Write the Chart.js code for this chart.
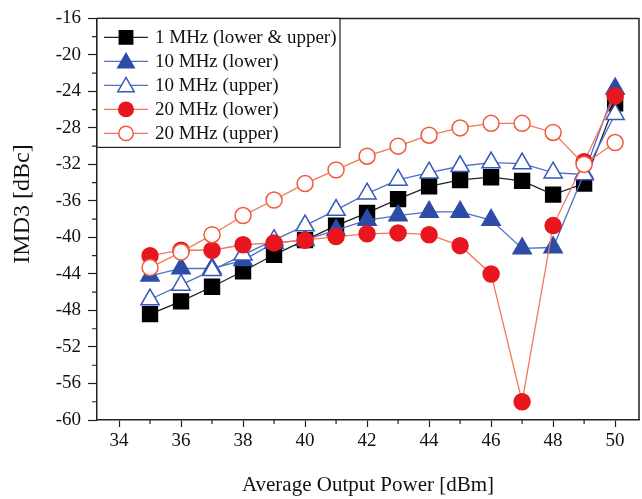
<!DOCTYPE html>
<html>
<head>
<meta charset="utf-8">
<script src="https://cdn.jsdelivr.net/npm/chart.js@4/dist/chart.umd.min.js"></script>
<style>
html,body{margin:0;padding:0;background:#fff;}
#wrap{width:642px;height:499px;}
</style>
</head>
<body>
<div id="wrap"><canvas id="c" width="642" height="499"></canvas></div>
<script>
const powerDbm = [35,36,37,38,39,40,41,42,43,44,45,46,47,48,49,50];
const imd1MHz      = [-48.4,-47.0,-45.4,-43.7,-41.9,-40.3,-38.7,-37.3,-35.8,-34.4,-33.7,-33.4,-33.8,-35.3,-34.1,-25.3];
const imd10MHzLow  = [-44.2,-43.4,-43.4,-42.5,-40.6,-40.3,-39.2,-38.1,-37.6,-37.2,-37.2,-38.1,-41.2,-41.1,-33.0,-23.7];
const imd10MHzUp   = [-46.8,-45.2,-43.6,-41.9,-40.3,-38.7,-37.0,-35.2,-33.7,-32.9,-32.2,-31.8,-31.9,-32.9,-33.1,-26.5];
const imd20MHzLow  = [-42.0,-41.4,-41.4,-40.8,-40.6,-40.3,-39.9,-39.6,-39.5,-39.7,-40.9,-44.0,-58.0,-38.7,-31.7,-24.5];
const imd20MHzUp   = [-43.3,-41.6,-39.7,-37.6,-35.9,-34.1,-32.6,-31.1,-30.0,-28.8,-28.0,-27.5,-27.5,-28.5,-32.0,-29.6];
const seriesNames  = ['1 MHz (lower & upper)','10 MHz (lower)','10 MHz (upper)','20 MHz (lower)','20 MHz (upper)'];
const xMajorTicks  = [34,36,38,40,42,44,46,48,50];
const xMinorTicks  = [35,37,39,41,43,45,47,49];
const yMajorTicks  = [-60,-56,-52,-48,-44,-40,-36,-32,-28,-24,-20,-16];
const yMinorTicks  = [-58,-54,-50,-46,-42,-38,-34,-30,-26,-22,-18];
const xTitle = 'Average Output Power [dBm]';
const yTitle = 'IMD3 [dBc]';

const SERIF = '"Liberation Serif","Times New Roman",serif';
const styles = [
  {line:'#222222', fill:'#000000', stroke:'#000000', shape:'rect', r:10.5, order:5},
  {line:'#4f6fc6', fill:'#2d4ca8', stroke:'#2d4ca8', shape:'triangle', r:10.5, order:4},
  {line:'#4f6fc6', fill:'#ffffff', stroke:'#3558bb', shape:'triangle', r:10.5, order:3},
  {line:'#f2775c', fill:'#e8161e', stroke:'#e8161e', shape:'circle', r:8, order:2},
  {line:'#f2775c', fill:'#ffffff', stroke:'#f05a3a', shape:'circle', r:8, order:1}
];
const allSeries = [imd1MHz, imd10MHzLow, imd10MHzUp, imd20MHzLow, imd20MHzUp];

const datasets = allSeries.map((vals, i) => ({
  label: seriesNames[i],
  data: powerDbm.map((x, k) => ({x: x, y: vals[k]})),
  borderColor: styles[i].line,
  borderWidth: 1.3,
  pointStyle: styles[i].shape,
  pointRadius: styles[i].r,
  pointHoverRadius: styles[i].r,
  pointBackgroundColor: styles[i].fill,
  pointBorderColor: styles[i].stroke,
  pointBorderWidth: 1.5,
  tension: 0,
  clip: false,
  order: styles[i].order
}));

function drawMarker(ctx, shape, x, y, r, fill, stroke) {
  ctx.save();
  ctx.beginPath();
  if (shape === 'rect') {
    const s = r * Math.SQRT1_2;
    ctx.rect(x - s, y - s, 2*s, 2*s);
  } else if (shape === 'triangle') {
    ctx.moveTo(x, y - r);
    ctx.lineTo(x + r*Math.sqrt(3)/2, y + r/2);
    ctx.lineTo(x - r*Math.sqrt(3)/2, y + r/2);
    ctx.closePath();
  } else {
    ctx.arc(x, y, r, 0, Math.PI*2);
  }
  ctx.fillStyle = fill; ctx.fill();
  ctx.lineWidth = 1.5; ctx.strokeStyle = stroke; ctx.stroke();
  ctx.restore();
}

const framePlugin = {
  id: 'frame',
  afterDraw(chart) {
    const {ctx, chartArea: a, scales} = chart;
    ctx.save();
    ctx.strokeStyle = '#222';
    ctx.lineWidth = 1.5;
    ctx.beginPath();
    ctx.moveTo(a.left, a.top); ctx.lineTo(a.right, a.top); ctx.lineTo(a.right, a.bottom);
    ctx.stroke();
    // minor ticks
    ctx.lineWidth = 1.2;
    ctx.beginPath();
    xMinorTicks.forEach(v => { const px = scales.x.getPixelForValue(v); ctx.moveTo(px, a.bottom); ctx.lineTo(px, a.bottom + 4); });
    yMinorTicks.forEach(v => { const py = scales.y.getPixelForValue(v); ctx.moveTo(a.left, py); ctx.lineTo(a.left - 5, py); });
    ctx.stroke();
    // y title
    ctx.save();
    ctx.translate(23, 204);
    ctx.rotate(-Math.PI / 2);
    ctx.font = '24px ' + SERIF;
    ctx.fillStyle = '#111';
    ctx.textAlign = 'center';
    ctx.textBaseline = 'middle';
    ctx.fillText(yTitle, 0, 0);
    ctx.restore();
    // legend
    const lx = a.left, ly = a.top, lw = 243, lh = 129;
    ctx.fillStyle = '#fff';
    ctx.fillRect(lx, ly, lw, lh);
    ctx.lineWidth = 1.2; ctx.strokeStyle = '#222';
    ctx.strokeRect(lx, ly, lw, lh);
    ctx.font = '19px ' + SERIF;
    ctx.textBaseline = 'middle';
    ctx.textAlign = 'left';
    seriesNames.forEach((name, i) => {
      const y = ly + 19 + i * 24;
      const s = styles[i];
      ctx.strokeStyle = s.line; ctx.lineWidth = 1.3;
      ctx.beginPath(); ctx.moveTo(lx + 7, y); ctx.lineTo(lx + 51, y); ctx.stroke();
      drawMarker(ctx, s.shape, lx + 29, y + (s.shape==='triangle'?1.5:0), s.r*0.9, s.fill, s.stroke);
      ctx.fillStyle = '#111';
      ctx.fillText(name, lx + 58, y + 1);
    });
    ctx.restore();
  }
};

new Chart(document.getElementById('c'), {
  type: 'line',
  data: { datasets },
  options: {
    responsive: false,
    animation: false,
    layout: { autoPadding: false, padding: { top: 18, right: 3, left: 0, bottom: 0 } },
    plugins: { legend: { display: false }, tooltip: { enabled: false } },
    scales: {
      x: {
        type: 'linear',
        min: 33.29, max: 50.77,
        afterBuildTicks: s => { s.ticks = xMajorTicks.map(v => ({value: v})); },
        afterFit: s => { s.height = 79; s.paddingRight = 0; s.paddingLeft = 0; },
        grid: { drawOnChartArea: false, tickLength: 7, tickColor: '#222', tickWidth: 1.2 },
        border: { display: true, color: '#222', width: 1.5 },
        ticks: { color: '#111', font: { family: SERIF, size: 19 }, padding: 3, maxRotation: 0, autoSkip: false },
        title: { display: true, text: xTitle, color: '#111', font: { family: SERIF, size: 21 }, padding: { top: 0, bottom: 1 } }
      },
      y: {
        type: 'linear',
        min: -60, max: -16,
        afterBuildTicks: s => { s.ticks = yMajorTicks.map(v => ({value: v})); },
        afterFit: s => { s.width = 97; },
        grid: { drawOnChartArea: false, tickLength: 9, tickColor: '#222', tickWidth: 1.2 },
        border: { display: true, color: '#222', width: 1.5 },
        ticks: { color: '#111', font: { family: SERIF, size: 19 }, padding: 7, autoSkip: false },
        title: { display: false }
      }
    }
  },
  plugins: [framePlugin]
});
</script>
</body>
</html>
